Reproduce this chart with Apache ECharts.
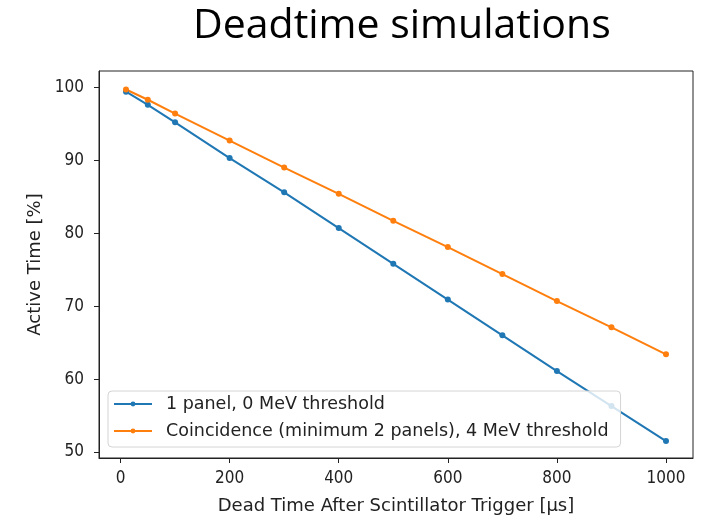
<!DOCTYPE html>
<html>
<head>
<meta charset="utf-8">
<script src="https://cdn.jsdelivr.net/npm/echarts@6/dist/echarts.min.js"></script>
<style>
  html, body { margin: 0; padding: 0; background: #fff; }
  #chart { width: 713px; height: 517px; }
</style>
</head>
<body>
<div id="chart"></div>
<script>
// Dead time after trigger [µs]
const deadTimes = [10, 50, 100, 200, 300, 400, 500, 600, 700, 800, 900, 1000];
// Active time [%] for each configuration
const onePanel = [99.4, 97.6, 95.2, 90.3, 85.6, 80.7, 75.8, 70.9, 66.0, 61.1, 56.3, 51.5];
const coincidence = [99.7, 98.3, 96.4, 92.7, 89.0, 85.4, 81.7, 78.1, 74.4, 70.7, 67.1, 63.4];
const seriesNames = ['1 panel, 0 MeV threshold', 'Coincidence (minimum 2 panels), 4 MeV threshold'];
const xTicks = [0, 200, 400, 600, 800, 1000];
const yTicks = [50, 60, 70, 80, 90, 100];

const tickFont = { fontFamily: "'DejaVu Sans Condensed', 'DejaVu Sans'", fontSize: 17, color: '#222' };

const chart = echarts.init(document.getElementById('chart'), null, { renderer: 'canvas' });

function pairs(xs, ys) { return xs.map((x, i) => [x, ys[i]]); }

chart.setOption({
  animation: false,
  backgroundColor: '#fff',
  title: {
    text: 'Deadtime simulations',
    left: 188, top: 1,
    textStyle: { fontFamily: 'Open Sans', fontWeight: 'normal', fontSize: 41, color: '#000' }
  },
  grid: {
    left: 99, top: 71, width: 594, height: 387,
    outerBoundsMode: 'none', containLabel: false,
    show: true, borderColor: '#222', borderWidth: 1, backgroundColor: 'transparent'
  },
  legend: {
    orient: 'vertical',
    left: 108, top: 391,
    padding: [4, 12, 7, 5],
    itemGap: 9,
    itemWidth: 38, itemHeight: 6,
    backgroundColor: 'rgba(255,255,255,0.8)',
    borderColor: '#d4d4d4', borderWidth: 1, borderRadius: 4,
    textStyle: { fontFamily: 'DejaVu Sans', fontSize: 17.5, color: '#222', padding: [0, 0, 0, 9] },
    data: seriesNames
  },
  xAxis: {
    type: 'value',
    min: -39.5, max: 1049.5,
    name: 'Dead Time After Scintillator Trigger [μs]',
    nameLocation: 'middle', nameGap: 39,
    nameTextStyle: { fontFamily: 'DejaVu Sans', fontSize: 18, color: '#222' },
    axisLine: { show: true, onZero: false, lineStyle: { color: '#222', width: 1 } },
    axisTick: { show: true, inside: false, length: 5, lineStyle: { color: '#222' }, customValues: xTicks },
    axisLabel: Object.assign({ margin: 12, customValues: xTicks, formatter: v => String(v) }, tickFont),
    splitLine: { show: false }
  },
  yAxis: {
    type: 'value',
    min: 49.18, max: 102.24,
    name: 'Active Time [%]',
    nameLocation: 'middle', nameGap: 54, nameRotate: 90,
    nameTextStyle: { fontFamily: 'DejaVu Sans', fontSize: 18, color: '#222' },
    axisLine: { show: true, onZero: false, lineStyle: { color: '#222', width: 1 } },
    axisTick: { show: true, inside: false, length: 5, lineStyle: { color: '#222' }, customValues: yTicks },
    axisLabel: Object.assign({ margin: 15, customValues: yTicks, formatter: v => String(v) }, tickFont),
    splitLine: { show: false }
  },
  series: [
    {
      name: seriesNames[0], type: 'line',
      data: pairs(deadTimes, onePanel),
      symbol: 'circle', symbolSize: 6, showSymbol: true,
      lineStyle: { color: '#1f77b4', width: 2 },
      itemStyle: { color: '#1f77b4' }
    },
    {
      name: seriesNames[1], type: 'line',
      data: pairs(deadTimes, coincidence),
      symbol: 'circle', symbolSize: 6, showSymbol: true,
      lineStyle: { color: '#ff7f0e', width: 2 },
      itemStyle: { color: '#ff7f0e' }
    }
  ]
});
</script>
</body>
</html>
